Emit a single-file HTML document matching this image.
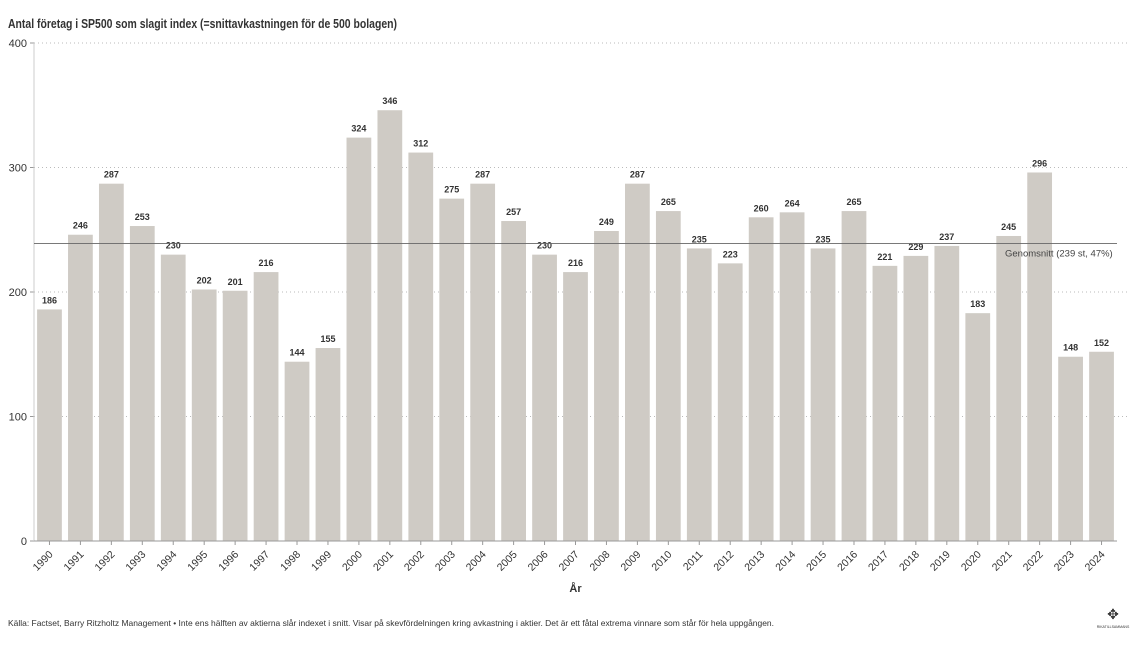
<!DOCTYPE html>
<html><head><meta charset="utf-8"><style>
body{margin:0;background:#fff;font-family:"Liberation Sans",sans-serif;}
svg text{font-family:"Liberation Sans",sans-serif;}
</style></head><body>
<svg id="c" width="1138" height="640">
<text x="8" y="28" font-size="12.5" font-weight="bold" fill="#333" textLength="389" lengthAdjust="spacingAndGlyphs">Antal företag i SP500 som slagit index (=snittavkastningen för de 500 bolagen)</text>
<text x="8" y="626" font-size="8.5" fill="#333" textLength="766" lengthAdjust="spacingAndGlyphs">Källa: Factset, Barry Ritzholtz Management • Inte ens hälften av aktierna slår indexet i snitt. Visar på skevfördelningen kring avkastning i aktier. Det är ett fåtal extrema vinnare som står för hela uppgången.</text>
<g><text x="1113" y="619" font-size="14" text-anchor="middle" fill="#333">✥</text><text x="1113" y="628" font-size="3.5" text-anchor="middle" fill="#333">RIKATILLSAMMANS</text></g>
</svg>
<script>
const years=["1990","1991","1992","1993","1994","1995","1996","1997","1998","1999","2000","2001","2002","2003","2004","2005","2006","2007","2008","2009","2010","2011","2012","2013","2014","2015","2016","2017","2018","2019","2020","2021","2022","2023","2024"];
const values=[186,246,287,253,230,202,201,216,144,155,324,346,312,275,287,257,230,216,249,287,265,235,223,260,264,235,265,221,229,237,183,245,296,148,152];
const yTicks=[0,100,200,300,400];
const avgValue=239;
const avgLabel="Genomsnitt (239 st, 47%)";
const svg=document.getElementById('c');const NS="http://www.w3.org/2000/svg";
const x0=34,x1=1117,yb=541,yt=43,ymax=400;
const band=(x1-x0)/years.length;
const xs=i=>x0+i*band;
const ys=v=>yb-(v/ymax)*(yb-yt);
function mk(t,a,p){const e=document.createElementNS(NS,t);for(const k in a)e.setAttribute(k,a[k]);(p||svg).appendChild(e);return e;}
yTicks.forEach(t=>{
 if(t>0){const g=mk('line',{x1:x0,x2:1130,y1:ys(t),y2:ys(t),stroke:'#bbb','stroke-dasharray':'1,3'});
 
 }
 mk('line',{x1:x0-4,x2:x0,y1:ys(t),y2:ys(t),stroke:'#999'});
 const l=mk('text',{x:x0-7,y:ys(t)+4,'font-size':11,'text-anchor':'end',fill:'#333'});l.textContent=t;
 
 
});
mk('line',{x1:x0,x2:x0,y1:yt,y2:yb,stroke:'#ccc'});
values.forEach((v,i)=>{
 const bx=xs(i)+band*0.1,bw=band*0.8;
 const r=mk('rect',{x:bx,y:ys(v),width:bw,height:yb-ys(v),fill:'#cfcbc5'});
 
 
 const t=mk('text',{x:xs(i)+band/2,y:ys(v)-6,'font-size':9,'font-weight':'bold','text-anchor':'middle',fill:'#333'});t.textContent=v;
 
 
 const cx=xs(i)+band/2;
 mk('line',{x1:cx,x2:cx,y1:yb,y2:yb+4,stroke:'#999'});
 const xl=mk('text',{x:cx+4,y:yb+14,'font-size':10.5,'text-anchor':'end',fill:'#333',transform:`rotate(-45 ${cx+4} ${yb+14})`});xl.textContent=years[i];
 
 
});
mk('line',{x1:x0,x2:x1,y1:yb,y2:yb,stroke:'#999'});
const al=mk('line',{x1:x0,x2:x1,y1:ys(avgValue),y2:ys(avgValue),stroke:'#666','stroke-width':0.8});


const at=mk('text',{x:1005,y:ys(avgValue)+13,'font-size':9.5,fill:'#444'});at.textContent=avgLabel;


const xt=mk('text',{x:(x0+x1)/2,y:592,'font-size':11,'font-weight':'bold','text-anchor':'middle',fill:'#333'});xt.textContent="År";


</script>
</body></html>
